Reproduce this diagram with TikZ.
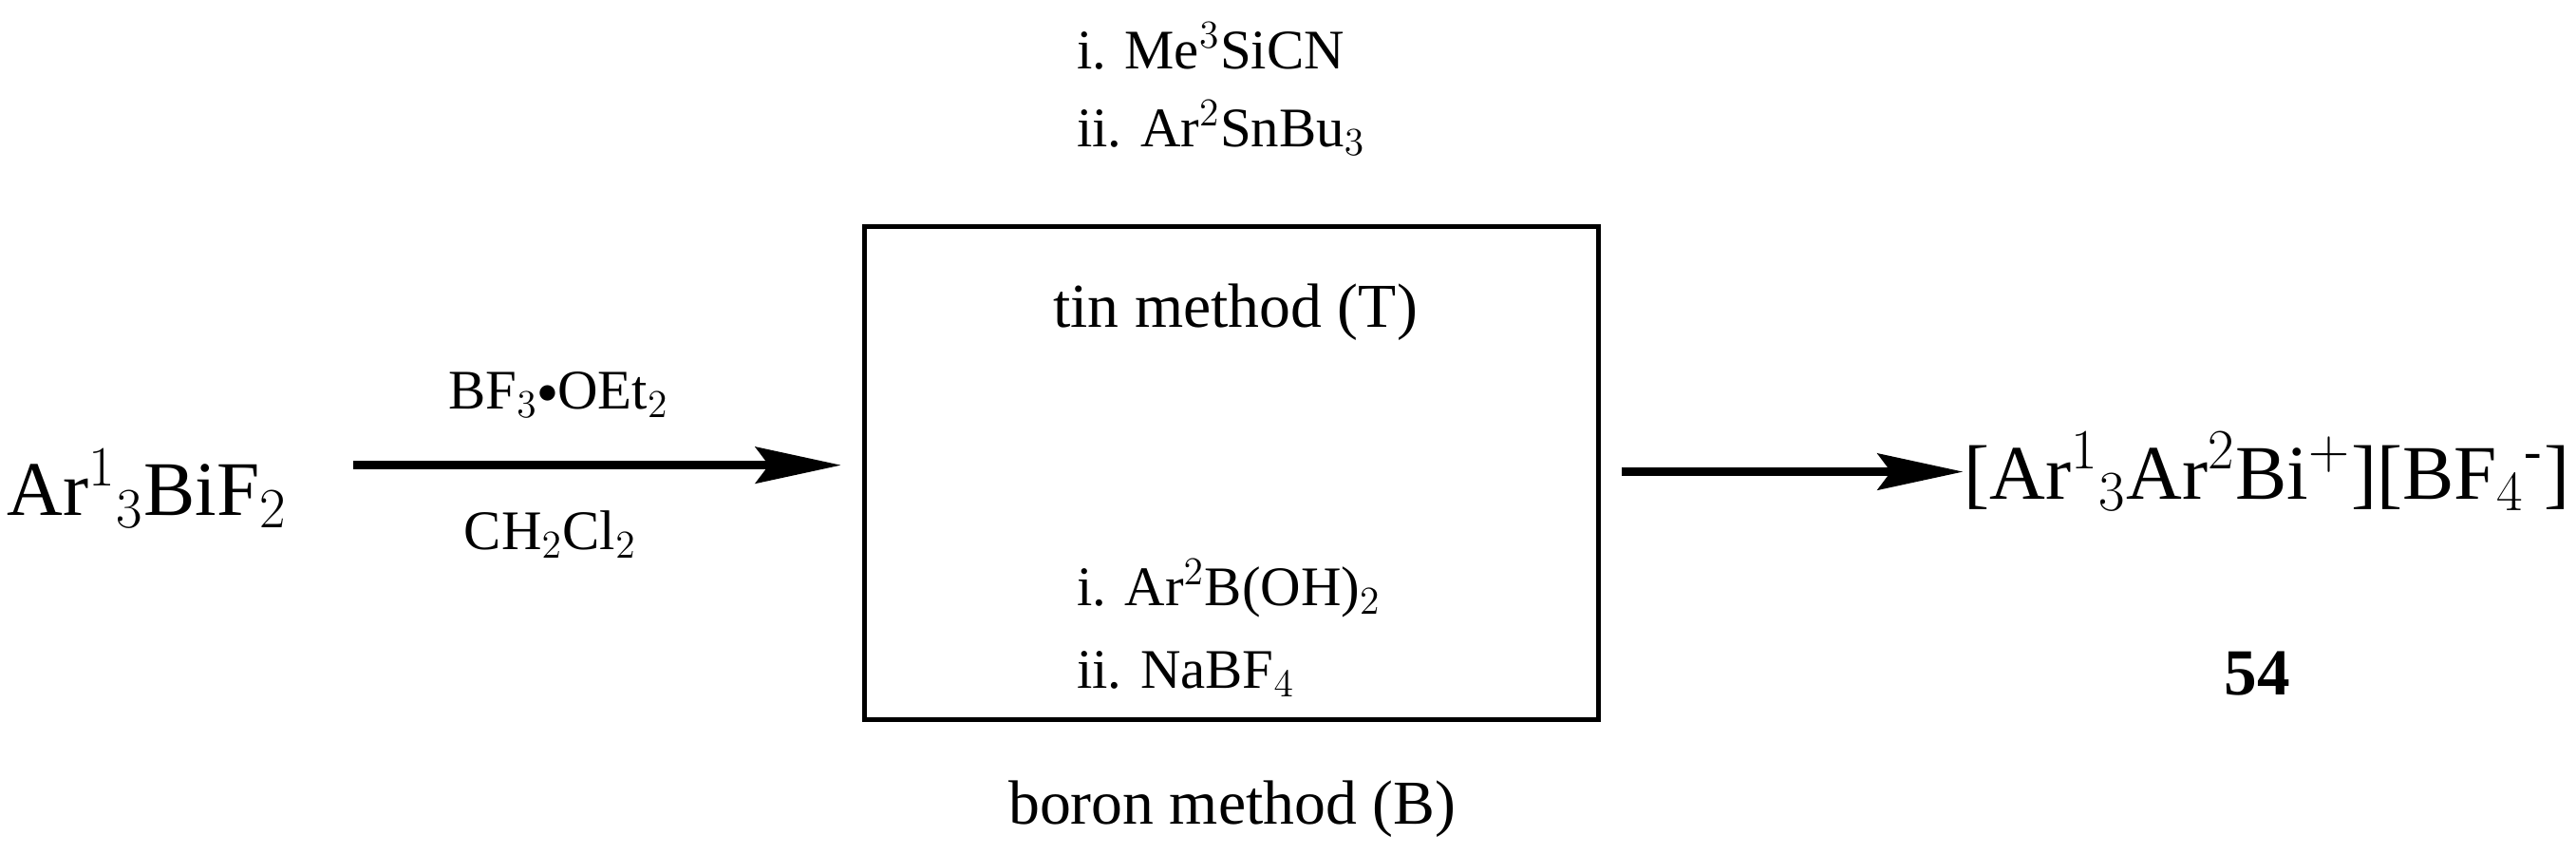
\documentclass[tikz,border=0pt]{standalone}
\usepackage{fontspec}
\setmainfont{Liberation Serif}
\usetikzlibrary{arrows.meta}
\begin{document}
\begin{tikzpicture}[x=0.5pt,y=0.5pt,
  big/.style={font=\fontsize{23.5}{27}\selectfont, inner sep=0pt},
  mid/.style={font=\fontsize{19}{23}\selectfont, inner sep=0pt},
  rea/.style={font=\fontsize{17}{20}\selectfont, inner sep=0pt, anchor=west},
  rxn/.style={line width=2.5pt, -{Stealth[length=26pt,width=11pt,inset=4pt]}}]
\useasboundingbox (0,0) rectangle (1568,520);
\node[big, anchor=west] (sm) at (4,223) {Ar$^1{}_3$BiF$_2$};
\coordinate (a1s) at (215,237);
\draw[line width=1.5pt] (526,82) rectangle (973,382);
\coordinate (bw) at (512,237);
\coordinate (be) at (987,233);
\draw[rxn] (a1s) -- (bw);
\node[rea, anchor=center] (bf) at (340,280) {BF$_3$\raisebox{0.2ex}{\scalebox{0.7}{$\bullet$}}OEt$_2$};
\node[rea, anchor=center] (cc) at (335,195) {CH$_2$Cl$_2$};
\node[big, anchor=west] (pr) at (1195,233) {[Ar$^1{}_3$Ar$^2$Bi$^+$][BF$_4{}^{\hbox{\fontsize{16}{18}\selectfont -}}$]};
\draw[rxn] (be) -- (pr.west);
\node[font=\fontsize{20}{24}\selectfont\bfseries, inner sep=0pt] (n54) at (1374,110) {54};
\node[rea] (t1) at (655,492) {i. Me$^3$SiCN};
\node[rea] (t2) at (655,442) {ii. Ar$^2$SnBu$_3$};
\node[mid] (tin) at (752,330) {tin method (T)};
\node[rea] (b1) at (655,162) {i. Ar$^2$B(OH)$_2$};
\node[rea] (b2) at (655,110) {ii. NaBF$_4$};
\node[mid] (bor) at (750,28) {boron method (B)};
\end{tikzpicture}
\end{document}
